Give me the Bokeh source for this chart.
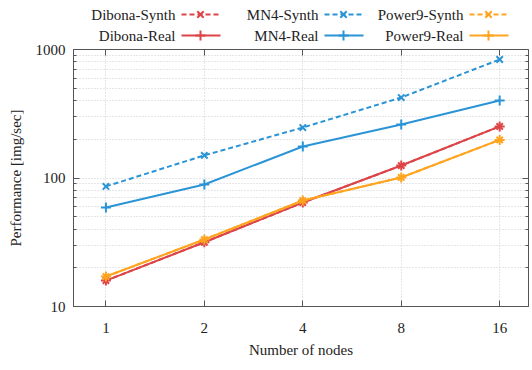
from bokeh.plotting import figure
from bokeh.models import (FixedTicker, Range1d, LogAxis, ColumnDataSource)
from bokeh.layouts import column
from bokeh.embed import file_html
from bokeh.resources import INLINE

nodes = [1, 2, 4, 8, 16]
dibona_synth = [15.9, 31.6, 64.4, 125, 252]
dibona_real = [15.9, 31.6, 64.4, 125, 252]
mn4_synth = [86, 150, 247, 423, 836]
mn4_real = [59, 89, 176, 261, 401]
power9_synth = [17.1, 33.2, 66.8, 101, 198]
power9_real = [17.1, 33.2, 66.8, 101, 198]
y_ticks = [10, 100, 1000]

RED = "#dc4448"
BLUE = "#2a94d6"
ORANGE = "#ffa41e"
FONT = "Liberation Serif"
FS = "15px"
AXC = "#555555"
TXT = "#222222"

series = [
    ("Dibona-Synth", dibona_synth, RED, "dashed"),
    ("Dibona-Real", dibona_real, RED, "solid"),
    ("MN4-Synth", mn4_synth, BLUE, "dashed"),
    ("MN4-Real", mn4_real, BLUE, "solid"),
    ("Power9-Synth", power9_synth, ORANGE, "dashed"),
    ("Power9-Real", power9_real, ORANGE, "solid"),
]

LEG_H = 43
BL, BR = 73, 4
p = figure(width=532, height=370 - LEG_H, x_axis_type="log", y_axis_type="log",
           x_range=Range1d(0.796, 19.6), y_range=Range1d(10, 1000),
           output_backend="svg", toolbar_location=None,
           min_border_left=BL, min_border_right=BR, min_border_top=6, min_border_bottom=64)
p.outline_line_color = AXC
p.background_fill_color = "white"

minor = [m * 10 ** k for k in (1, 2) for m in range(2, 10)]
p.xaxis.ticker = FixedTicker(ticks=nodes)
p.xaxis.major_label_overrides = {n: str(n) for n in nodes}
p.yaxis.ticker = FixedTicker(ticks=y_ticks, minor_ticks=minor)
p.yaxis.major_label_overrides = {t: str(t) for t in y_ticks}

for ax in (p.xaxis[0], p.yaxis[0]):
    ax.axis_line_color = AXC
    ax.major_tick_line_color = AXC
    ax.minor_tick_line_color = AXC
    ax.major_tick_in = 6
    ax.major_tick_out = 0
    ax.minor_tick_in = 3
    ax.minor_tick_out = 0
    ax.major_label_text_font = FONT
    ax.major_label_text_font_size = FS
    ax.major_label_text_color = TXT
    ax.axis_label_text_font = FONT
    ax.axis_label_text_font_size = FS
    ax.axis_label_text_font_style = "normal"
    ax.axis_label_text_color = TXT
p.xaxis.major_label_standoff = 16
p.yaxis.major_label_standoff = 8
p.xaxis.axis_label = "Number of nodes"
p.yaxis.axis_label = "Performance [img/sec]"
p.xaxis.axis_label_standoff = 6
p.yaxis.axis_label_standoff = 9

# mirrored axes (ticks only, no labels)
ax_r = LogAxis(ticker=FixedTicker(ticks=y_ticks, minor_ticks=minor),
               major_label_text_font_size="1px", major_label_text_color=None,
               axis_line_color=None,
               major_tick_in=6, major_tick_out=0, minor_tick_in=3, minor_tick_out=0,
               major_tick_line_color=AXC, minor_tick_line_color=AXC, major_label_standoff=0)
p.add_layout(ax_r, "right")
ax_t = LogAxis(ticker=FixedTicker(ticks=nodes),
               major_label_text_font_size="1px", major_label_text_color=None,
               axis_line_color=None,
               major_tick_in=6, major_tick_out=0, minor_tick_line_color=None,
               major_tick_line_color=AXC, major_label_standoff=0)
p.add_layout(ax_t, "above")

p.xgrid.grid_line_color = "#cccccc"
p.xgrid.grid_line_dash = "1 2"
p.ygrid.grid_line_color = "#cccccc"
p.ygrid.grid_line_dash = "1 2"
p.ygrid.minor_grid_line_color = "#cccccc"
p.ygrid.minor_grid_line_dash = "1 2"

for name, vals, col, kind in series:
    src = ColumnDataSource(dict(x=nodes, y=vals))
    if kind == "dashed":
        p.line("x", "y", source=src, line_color=col, line_width=2, line_dash="5 3")
        p.scatter("x", "y", source=src, marker="x", size=9, line_color=col, line_width=2)
    else:
        p.line("x", "y", source=src, line_color=col, line_width=2)
        p.scatter("x", "y", source=src, marker="cross", size=10, line_color=col, line_width=2)

# legend strip (layout only); its frame is aligned with the main frame,
# so the x range is set in page pixels of that frame
lg = figure(width=532, height=LEG_H, x_range=Range1d(BL, 532 - BR), y_range=Range1d(LEG_H, 0),
            output_backend="svg", toolbar_location=None,
            min_border_left=BL, min_border_right=BR, min_border_top=0, min_border_bottom=0)
lg.axis.visible = False
lg.grid.visible = False
lg.outline_line_color = None
ends = [175, 318, 463]
rows = [14, 35]
for i, (name, vals, col, kind) in enumerate(series):
    c, r = i // 2, i % 2
    xe = ends[c]
    y = rows[r]
    lg.text(x=[xe], y=[y], text=[name], text_align="right", text_baseline="middle",
            text_font={"value": FONT}, text_font_size=FS, text_color=TXT)
    dash = "5 3" if kind == "dashed" else "solid"
    lg.line(x=[xe + 6, xe + 45], y=[y, y], line_color=col, line_width=2, line_dash=dash)
    if kind == "dashed":
        lg.scatter(x=[xe + 25], y=[y], marker="x", size=9, line_color=col, line_width=2)
    else:
        lg.scatter(x=[xe + 25], y=[y], marker="cross", size=10, line_color=col, line_width=2)

layout = column(lg, p, spacing=0)
open("out.html", "w").write(file_html(layout, INLINE))
